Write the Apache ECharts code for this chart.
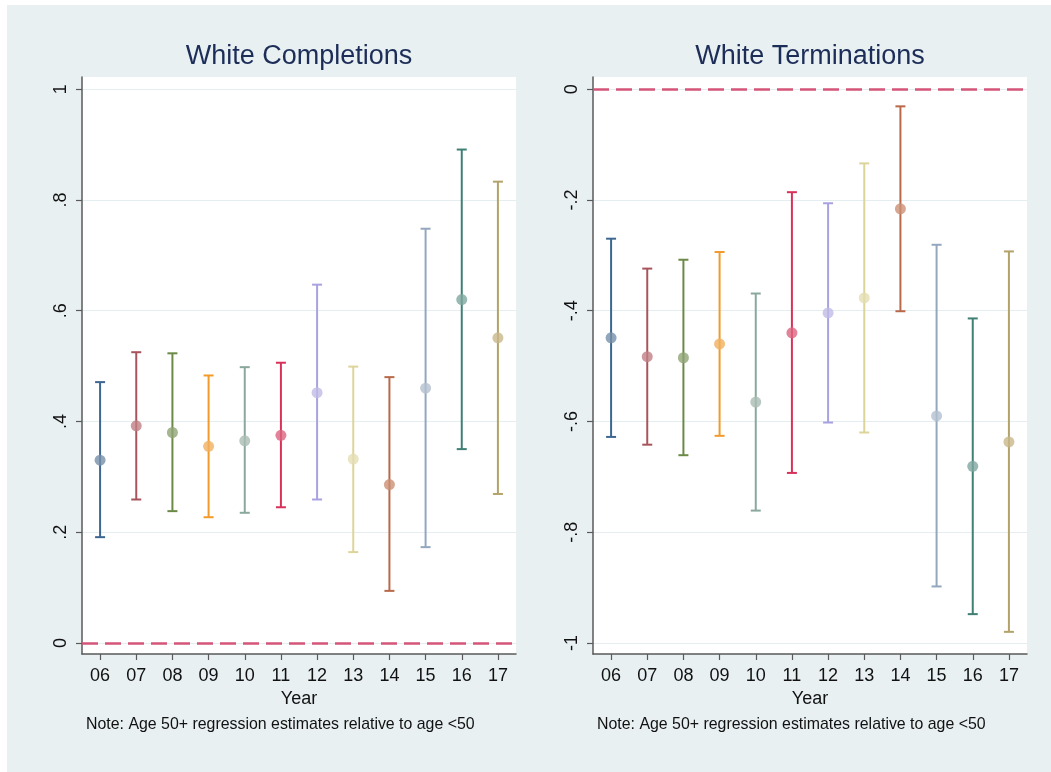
<!DOCTYPE html>
<html>
<head>
<meta charset="utf-8">
<script src="https://cdn.jsdelivr.net/npm/echarts@6/dist/echarts.min.js"></script>
<style>
  html, body { margin: 0; padding: 0; background: #fff; }
  #chart { width: 1051px; height: 772px; }
</style>
</head>
<body>
<div id="chart"></div>
<script>
// data
var years = ['06', '07', '08', '09', '10', '11', '12', '13', '14', '15', '16', '17'];

var complEst = [0.330, 0.392, 0.380, 0.355, 0.365, 0.375, 0.452, 0.332, 0.286, 0.460, 0.620, 0.551];
var complLo  = [0.191, 0.259, 0.238, 0.227, 0.235, 0.245, 0.259, 0.164, 0.094, 0.173, 0.350, 0.269];
var complHi  = [0.471, 0.525, 0.523, 0.483, 0.498, 0.506, 0.647, 0.499, 0.480, 0.748, 0.891, 0.833];

var termEst = [-0.449, -0.483, -0.485, -0.460, -0.565, -0.440, -0.404, -0.377, -0.216, -0.590, -0.681, -0.637];
var termLo  = [-0.628, -0.642, -0.661, -0.626, -0.761, -0.693, -0.602, -0.620, -0.401, -0.898, -0.948, -0.980];
var termHi  = [-0.270, -0.324, -0.308, -0.294, -0.369, -0.186, -0.206, -0.134, -0.031, -0.281, -0.414, -0.293];

var complTicks = [0, 0.2, 0.4, 0.6, 0.8, 1];
var termTicks = [-1, -0.8, -0.6, -0.4, -0.2, 0];
var refLine = 0;

var titles = ['White Completions', 'White Terminations'];
var note = 'Note: Age 50+ regression estimates relative to age <50';

// colours per year (ci line / dot)
var lineColors = ['#3d6790', '#a8545c', '#6b8a45', '#f29b2a', '#8aa89c', '#d8325a',
                  '#a9a2e0', '#ddd49a', '#b9694a', '#93a8bd', '#3f7f74', '#b3a26a'];
var dotColors  = ['#7790aa', '#c07f85', '#8fa474', '#f0b060', '#a9bdb4', '#dc6480',
                  '#bfbbe6', '#e3ddb2', '#cc9074', '#b4c1cf', '#7ea7a0', '#c8b88a'];

var font = '"Liberation Sans", Arial, Helvetica, sans-serif';
var axisGray = '#5a5a5a';

function fmt(v) {
  var s = String(+v.toFixed(2));
  return s.replace(/^(-?)0\./, '$1.');
}

function yAxisFor(idx, min, max, ticks) {
  return {
    type: 'value', gridIndex: idx, min: min, max: max,
    axisLine: { show: true, onZero: false, lineStyle: { color: axisGray, width: 1.5 } },
    axisTick: { show: true, length: 6, customValues: ticks, lineStyle: { color: axisGray, width: 1.2 } },
    axisLabel: {
      customValues: ticks, rotate: 90, margin: 12, formatter: fmt,
      fontSize: 18, color: '#111', fontFamily: font
    },
    splitLine: { show: true, lineStyle: { color: '#e4edf0', width: 1.2 } }
  };
}

function xAxisFor(idx) {
  return {
    type: 'category', gridIndex: idx, data: years, boundaryGap: true,
    name: 'Year', nameLocation: 'middle', nameGap: 35,
    nameTextStyle: { fontSize: 18, color: '#111', fontFamily: font },
    axisLine: { show: true, onZero: false, lineStyle: { color: axisGray, width: 1.5 } },
    axisTick: { show: true, alignWithLabel: true, length: 6, lineStyle: { color: axisGray, width: 1.2 } },
    axisLabel: { fontSize: 18, color: '#111', margin: 13, fontFamily: font, interval: 0 },
    splitLine: { show: false }
  };
}

function barSeries(idx, lo, hi) {
  var data = years.map(function (y, i) { return [i, lo[i], hi[i]]; });
  return {
    type: 'custom', xAxisIndex: idx, yAxisIndex: idx, data: data,
    renderItem: function (params, api) {
      var c = lineColors[params.dataIndex];
      var p1 = api.coord([api.value(0), api.value(1)]);
      var p2 = api.coord([api.value(0), api.value(2)]);
      var w = 5;
      var st = { stroke: c, lineWidth: 2 };
      return {
        type: 'group',
        children: [
          { type: 'line', shape: { x1: p1[0], y1: p1[1], x2: p2[0], y2: p2[1] }, style: st },
          { type: 'line', shape: { x1: p1[0] - w, y1: p1[1], x2: p1[0] + w, y2: p1[1] }, style: st },
          { type: 'line', shape: { x1: p2[0] - w, y1: p2[1], x2: p2[0] + w, y2: p2[1] }, style: st }
        ]
      };
    },
    z: 3
  };
}

function dotSeries(idx, est) {
  return {
    type: 'scatter', xAxisIndex: idx, yAxisIndex: idx, data: est,
    symbol: 'circle', symbolSize: 11,
    itemStyle: { color: function (p) { return dotColors[p.dataIndex]; } },
    markLine: {
      silent: true, symbol: 'none', label: { show: false },
      lineStyle: { color: '#d5557a', type: [16, 7], width: 2.5 },
      data: [{ yAxis: refLine }]
    },
    z: 4
  };
}

var chart = echarts.init(document.getElementById('chart'));

var option = {
  backgroundColor: '#fff',
  animation: false,
  graphic: [
    { type: 'rect', z: -10, shape: { x: 7, y: 5, width: 1044, height: 767 }, style: { fill: '#e8f0f2' } },
    { type: 'text', x: 299, y: 57, style: { text: titles[0], fontSize: 27, fontFamily: font, fill: '#1c2d58', align: 'center', verticalAlign: 'middle' } },
    { type: 'text', x: 810, y: 57, style: { text: titles[1], fontSize: 27, fontFamily: font, fill: '#1c2d58', align: 'center', verticalAlign: 'middle' } },
    { type: 'text', x: 86, y: 725, style: { text: note, fontSize: 15.9, fontFamily: font, fill: '#111', align: 'left', verticalAlign: 'middle' } },
    { type: 'text', x: 597, y: 725, style: { text: note, fontSize: 15.9, fontFamily: font, fill: '#111', align: 'left', verticalAlign: 'middle' } }
  ],
  grid: [
    { left: 82, top: 77, width: 434, height: 577, show: true, backgroundColor: '#fff', borderWidth: 0 },
    { left: 593, top: 77, width: 434, height: 577, show: true, backgroundColor: '#fff', borderWidth: 0 }
  ],
  xAxis: [xAxisFor(0), xAxisFor(1)],
  yAxis: [
    yAxisFor(0, -0.02, 1.022, complTicks),
    yAxisFor(1, -1.02, 0.022, termTicks)
  ],
  series: [
    barSeries(0, complLo, complHi),
    dotSeries(0, complEst),
    barSeries(1, termLo, termHi),
    dotSeries(1, termEst)
  ]
};

chart.setOption(option);
</script>
</body>
</html>
